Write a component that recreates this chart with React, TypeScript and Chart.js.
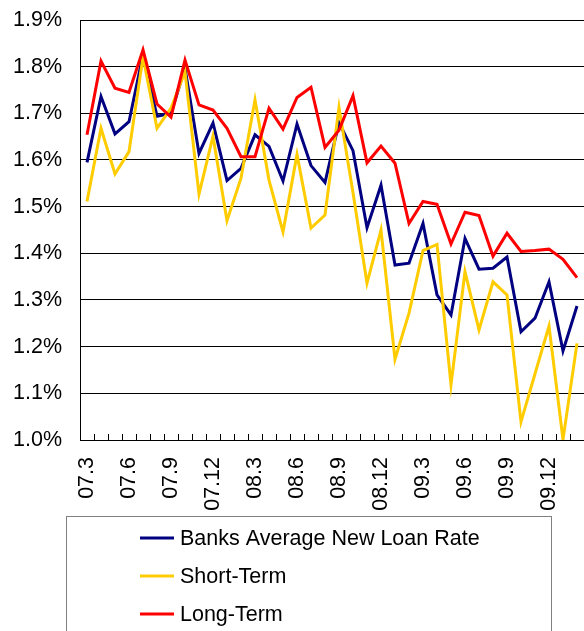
import React, { useEffect, useRef } from "react";
import { Chart, registerables } from "chart.js";

Chart.register(...registerables);

const months = [
  "07.3", "07.4", "07.5", "07.6", "07.7", "07.8", "07.9", "07.10", "07.11", "07.12",
  "08.1", "08.2", "08.3", "08.4", "08.5", "08.6", "08.7", "08.8", "08.9", "08.10",
  "08.11", "08.12", "09.1", "09.2", "09.3", "09.4", "09.5", "09.6", "09.7", "09.8",
  "09.9", "09.10", "09.11", "09.12", "10.1", "10.2",
];

const averageRate = [
  1.595, 1.736, 1.656, 1.682, 1.826, 1.694, 1.700, 1.797, 1.614, 1.679,
  1.556, 1.582, 1.654, 1.629, 1.555, 1.677, 1.588, 1.552, 1.680, 1.620,
  1.455, 1.546, 1.375, 1.379, 1.464, 1.311, 1.268, 1.432, 1.366, 1.368,
  1.392, 1.232, 1.261, 1.339, 1.191, 1.287,
];

const shortTerm = [
  1.511, 1.668, 1.570, 1.618, 1.821, 1.668, 1.711, 1.789, 1.527, 1.651,
  1.470, 1.561, 1.729, 1.557, 1.446, 1.612, 1.454, 1.482, 1.713, 1.530,
  1.336, 1.450, 1.173, 1.272, 1.406, 1.419, 1.118, 1.361, 1.236, 1.339,
  1.311, 1.039, 1.142, 1.244, 1.001, 1.207,
];

const longTerm = [
  1.654, 1.812, 1.754, 1.745, 1.836, 1.720, 1.692, 1.814, 1.718, 1.707,
  1.668, 1.607, 1.607, 1.711, 1.666, 1.734, 1.756, 1.627, 1.664, 1.738,
  1.594, 1.630, 1.593, 1.464, 1.511, 1.505, 1.420, 1.488, 1.481, 1.394,
  1.443, 1.404, 1.406, 1.409, 1.387, 1.348,
];

const seriesNames = ["Banks Average New Loan Rate", "Short-Term", "Long-Term"];
const seriesColors = ["#000080", "#FFCC00", "#FF0000"];

const FONT = "'Liberation Sans', Arial, sans-serif";
const FONT_SIZE = 21.5;

const innerTicks = {
  id: "innerTicks",
  afterDatasetsDraw(chart: any) {
    const x = chart.scales.x;
    const area = chart.chartArea;
    const ctx = chart.ctx;
    ctx.save();
    ctx.strokeStyle = "#000";
    ctx.lineWidth = 1;
    const n = chart.data.labels.length;
    const step = n > 1 ? x.getPixelForValue(1) - x.getPixelForValue(0) : 0;
    for (let i = 1; i < n; i++) {
      const px = Math.round(x.getPixelForValue(i) - step / 2) + 0.5;
      ctx.beginPath();
      ctx.moveTo(px, area.bottom);
      ctx.lineTo(px, area.bottom - 6);
      ctx.stroke();
    }
    ctx.restore();
  },
};

const boxLegend = {
  id: "boxLegend",
  afterDraw(chart: any) {
    const ctx = chart.ctx;
    ctx.save();
    ctx.strokeStyle = "#808080";
    ctx.lineWidth = 1;
    ctx.strokeRect(66.5, 516.5, 485, 140);
    ctx.font = `${FONT_SIZE}px ${FONT}`;
    ctx.textBaseline = "middle";
    ctx.textAlign = "left";
    const rows = [538, 576, 614];
    chart.data.datasets.forEach((ds: any, i: number) => {
      const y = rows[i];
      ctx.strokeStyle = ds.borderColor;
      ctx.lineWidth = 3;
      ctx.beginPath();
      ctx.moveTo(140, y);
      ctx.lineTo(174, y);
      ctx.stroke();
      ctx.fillStyle = "#000";
      ctx.fillText(ds.label, 180, y + 1);
    });
    ctx.restore();
  },
};

export default function App() {
  const ref = useRef<HTMLCanvasElement>(null);

  useEffect(() => {
    if (!ref.current) return;
    const chart = new Chart(ref.current, {
      type: "line",
      data: {
        labels: months,
        datasets: [
          { label: seriesNames[0], data: averageRate, borderColor: seriesColors[0], order: 3 },
          { label: seriesNames[1], data: shortTerm, borderColor: seriesColors[1], order: 2 },
          { label: seriesNames[2], data: longTerm, borderColor: seriesColors[2], order: 1 },
        ].map((d) => ({
          ...d,
          backgroundColor: d.borderColor,
          borderWidth: 3,
          pointRadius: 0,
          tension: 0,
          fill: false,
        })),
      },
      options: {
        responsive: false,
        animation: false,
        layout: { padding: { top: 20, left: 0, right: 0, bottom: 115 } },
        plugins: { legend: { display: false }, tooltip: { enabled: false } },
        scales: {
          x: {
            type: "category",
            offset: true,
            afterFit: (s: any) => {
              s.height = 76;
              s.paddingLeft = 0;
              s.paddingRight = 0;
            },
            grid: { display: true, drawOnChartArea: false, drawTicks: false, color: "#000" },
            border: { display: true, color: "#000", width: 1 },
            ticks: {
              autoSkip: false,
              minRotation: 90,
              maxRotation: 90,
              padding: 17,
              color: "#000",
              font: { family: FONT, size: FONT_SIZE },
              callback: (_v: any, i: number) => (i % 3 === 0 ? months[i] : ""),
            },
          },
          y: {
            min: 1.0,
            max: 1.9,
            afterFit: (s: any) => {
              s.width = 80;
              s.paddingTop = 0;
              s.paddingBottom = 0;
            },
            grid: { color: "#000", lineWidth: 1, drawTicks: false },
            border: { display: true, color: "#000", width: 1 },
            ticks: {
              stepSize: 0.1,
              padding: 18,
              color: "#000",
              font: { family: FONT, size: FONT_SIZE },
              callback: (v: any) => Number(v).toFixed(1) + "%",
            },
          },
        },
      },
      plugins: [innerTicks, boxLegend],
    });
    return () => chart.destroy();
  }, []);

  return (
    <canvas
      ref={ref}
      width={584}
      height={631}
      style={{ position: "fixed", left: 0, top: 0, display: "block", background: "#fff" }}
    />
  );
}
